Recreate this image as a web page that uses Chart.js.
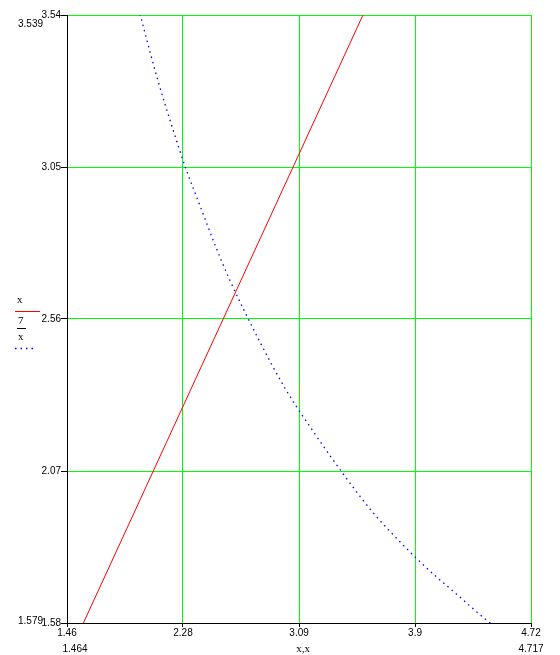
<!DOCTYPE html>
<html>
<head>
<meta charset="utf-8">
<script src="https://cdn.jsdelivr.net/npm/chart.js@4/dist/chart.umd.min.js"></script>
<style>
  html, body { margin: 0; padding: 0; background: #fff; }
  #wrap { width: 560px; height: 655px; }
</style>
</head>
<body>
<div id="wrap"><canvas id="myChart" width="560" height="655"></canvas></div>
<script>
// axis limits and ticks
const xLimits = [1.464, 4.717];
const yLimits = [1.579, 3.539];
const xTicks = [1.464, 2.277, 3.091, 3.904, 4.717];
const xTickLabels = ['1.46', '2.28', '3.09', '3.9', '4.72'];
const yTicks = [1.579, 2.069, 2.559, 3.049, 3.539];
const yTickLabels = ['1.58', '2.07', '2.56', '3.05', '3.54'];

// trace 1: x
const lineX = [1.46, 4.72];
const lineY = [1.46, 4.72];

// trace 2: 7/x
const curveX = [1.90, 2.00, 2.10, 2.20, 2.30, 2.40, 2.50, 2.60, 2.80, 3.00, 3.20, 3.40, 3.60, 3.80, 4.00, 4.20, 4.40, 4.60];
const curveY = [3.68, 3.50, 3.33, 3.18, 3.04, 2.92, 2.80, 2.69, 2.50, 2.33, 2.19, 2.06, 1.94, 1.84, 1.75, 1.67, 1.59, 1.52];

const GREEN = '#00ff00';

const extraText = {
    id: 'extraText',
    afterDraw(chart) {
        const ctx = chart.ctx;
        ctx.save();
        ctx.fillStyle = '#000';
        ctx.font = '10px "Liberation Sans"';
        ctx.textBaseline = 'middle';
        ctx.textAlign = 'right';
        ctx.fillText(yLimits[1].toFixed(3), 43, 24);
        ctx.fillText(yLimits[0].toFixed(3), 43, 621);
        ctx.textAlign = 'center';
        ctx.fillText(xLimits[0].toFixed(3), 75, 649);
        ctx.fillText(xLimits[1].toFixed(3), 531, 649);

        // axis titles / legend
        ctx.font = '11px "Liberation Serif"';
        ctx.fillText('x,x', 303, 649);
        ctx.textAlign = 'left';
        ctx.fillText('x', 17, 300);
        ctx.fillText('7', 18, 321);
        ctx.fillText('x', 18, 337);
        ctx.strokeStyle = 'red';
        ctx.lineWidth = 1;
        ctx.beginPath(); ctx.moveTo(15, 311.5); ctx.lineTo(40, 311.5); ctx.stroke();
        ctx.strokeStyle = '#000';
        ctx.beginPath(); ctx.moveTo(17, 328.5); ctx.lineTo(26, 328.5); ctx.stroke();
        ctx.strokeStyle = 'blue';
        ctx.setLineDash([1.5, 4]);
        ctx.lineWidth = 1.5;
        ctx.beginPath(); ctx.moveTo(15, 348.5); ctx.lineTo(37, 348.5); ctx.stroke();
        ctx.restore();
    }
};

const data = {
    datasets: [{
        label: 'x',
        data: lineX.map((v, i) => ({x: v, y: lineY[i]})),
        borderColor: 'red',
        borderWidth: 1,
        pointRadius: 0,
        showLine: true,
    }, {
        label: '7/x',
        data: curveX.map((v, i) => ({x: v, y: curveY[i]})),
        borderColor: 'blue',
        borderWidth: 1.3,
        borderDash: [1.5, 4],
        pointRadius: 0,
        showLine: true,
        cubicInterpolationMode: 'monotone',
    }],
};

const config = {
    type: 'scatter',
    data: data,
    options: {
        responsive: false,
        animation: false,
        layout: {
            padding: {left: 0, right: 29, top: 15, bottom: 0}
        },
        plugins: {
            legend: {display: false},
            tooltip: {enabled: false},
        },
        scales: {
            x: {
                type: 'linear',
                min: xLimits[0],
                max: xLimits[1],
                afterBuildTicks: s => { s.ticks = xTicks.map(v => ({value: v})); },
                afterFit: s => { s.height = 32; },
                ticks: {
                    autoSkip: false,
                    maxRotation: 0,
                    padding: 0,
                    color: '#000',
                    font: {family: 'Liberation Sans', size: 10},
                    callback: (v, i) => xTickLabels[i],
                },
                grid: {color: GREEN, lineWidth: 1, tickColor: '#000', tickLength: 4},
                border: {color: '#000', width: 1},
            },
            y: {
                type: 'linear',
                min: yLimits[0],
                max: yLimits[1],
                afterBuildTicks: s => { s.ticks = yTicks.map(v => ({value: v})); },
                afterFit: s => { s.width = 67; },
                ticks: {
                    autoSkip: false,
                    padding: 0,
                    color: '#000',
                    font: {family: 'Liberation Sans', size: 10},
                    callback: (v, i) => yTickLabels[i],
                },
                grid: {color: GREEN, lineWidth: 1, tickColor: '#000', tickLength: 6},
                border: {color: '#000', width: 1},
            },
        },
    },
    plugins: [extraText],
};

var myChart = new Chart(
    document.getElementById('myChart'),
    config
);
</script>
</body>
</html>
